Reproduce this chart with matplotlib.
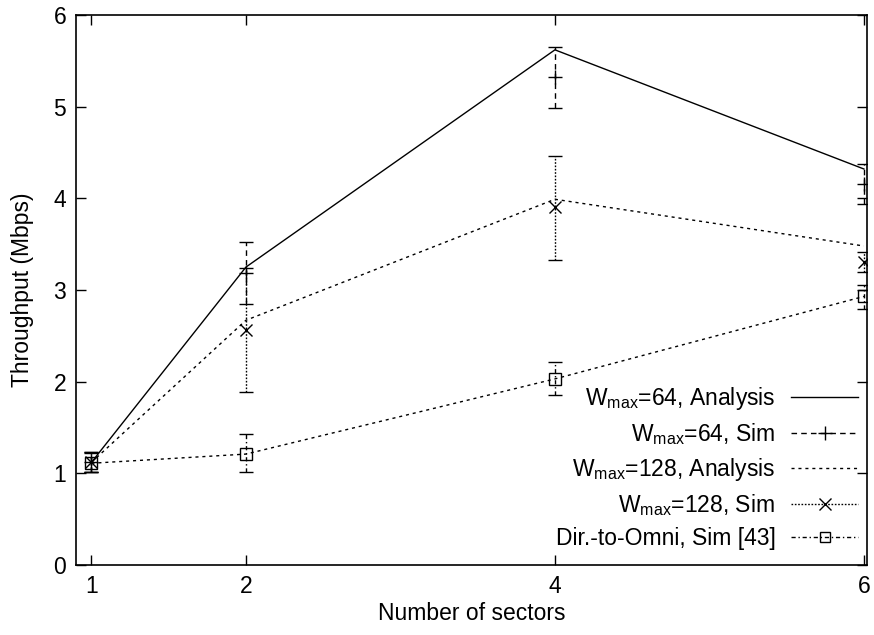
# Throughput vs number of sectors (gnuplot-style line chart with error bars)

import matplotlib
matplotlib.use("Agg")
import matplotlib.pyplot as plt
from matplotlib.lines import Line2D

plt.rcParams['font.family'] = ['Liberation Sans', 'DejaVu Sans']
plt.rcParams['mathtext.fontset'] = 'custom'
plt.rcParams['mathtext.rm'] = 'Liberation Sans'

# data
sectors = [1, 2, 4, 6]
w64_analysis = [1.12, 3.25, 5.62, 4.32]
w64_sim = [1.12, 3.19, 5.32, 4.16]
w64_sim_lo = [1.01, 2.85, 4.99, 3.94]
w64_sim_hi = [1.23, 3.52, 5.65, 4.37]
w128_analysis = [1.12, 2.67, 3.99, 3.48]
w128_sim = [1.12, 2.56, 3.91, 3.31]
w128_sim_lo = [1.01, 1.89, 3.33, 3.20]
w128_sim_hi = [1.23, 3.24, 4.46, 3.42]
omni_sim = [1.11, 1.21, 2.03, 2.93]
omni_sim_lo = [1.01, 1.01, 1.86, 2.79]
omni_sim_hi = [1.22, 1.43, 2.21, 3.05]

labels = [r'W$_{\mathrm{max}}$=64, Analysis',
          r'W$_{\mathrm{max}}$=64, Sim',
          r'W$_{\mathrm{max}}$=128, Analysis',
          r'W$_{\mathrm{max}}$=128, Sim',
          'Dir.-to-Omni, Sim [43]']


def yerr(mid, lo, hi):
    return [[m - l for m, l in zip(mid, lo)], [h - m for m, h in zip(mid, hi)]]


fs = 16.5
fig = plt.figure(figsize=(8.74, 6.35), dpi=100)
ax = fig.add_axes([76 / 874, 1 - 565 / 635, 791 / 874, 550 / 635])

dash64 = (0, (4, 3))
dot128 = (0, (1.2, 1.2))
dash_an128 = (0, (2.2, 2.8))
dashdot = (0, (3, 2, 1, 2))

ax.plot(sectors, w64_analysis, color='black', lw=1.0)
ax.plot(sectors, w128_analysis, color='black', lw=1.0, linestyle=dash_an128)
ax.plot(sectors, omni_sim, color='black', lw=1.0, linestyle=dash_an128)

eb = ax.errorbar(sectors, w64_sim, yerr=yerr(w64_sim, w64_sim_lo, w64_sim_hi),
                 fmt='+', color='black', ms=10, mew=1.0, elinewidth=1.0,
                 capsize=5, capthick=1.0)
eb[2][0].set_linestyle(dash64)

eb = ax.errorbar(sectors, w128_sim, yerr=yerr(w128_sim, w128_sim_lo, w128_sim_hi),
                 fmt='x', color='black', ms=9, mew=1.0, elinewidth=1.0,
                 capsize=5, capthick=1.0)
eb[2][0].set_linestyle(dot128)

eb = ax.errorbar(sectors, omni_sim, yerr=yerr(omni_sim, omni_sim_lo, omni_sim_hi),
                 fmt='s', mfc='none', color='black', ms=8, mew=1.0, elinewidth=1.0,
                 capsize=5, capthick=1.0)
eb[2][0].set_linestyle(dashdot)

ax.set_xlim(0.9, 6.02)
ax.set_ylim(0, 6)
ax.set_xticks(sectors)
ax.set_yticks(range(0, 7))
ax.tick_params(direction='in', length=7, width=1, labelsize=fs,
               top=True, right=True, pad=7)
for s in ax.spines.values():
    s.set_linewidth(1.2)

ax.set_xlabel('Number of sectors', fontsize=fs, labelpad=3)
ax.set_ylabel('Throughput (Mbps)', fontsize=fs, labelpad=14)

# legend: labels right-aligned, line samples on the right (gnuplot style)
handles = [
    Line2D([], [], color='black', lw=1.0),
    Line2D([], [], color='black', lw=1.0, linestyle=dash64, marker='+', ms=10),
    Line2D([], [], color='black', lw=1.0, linestyle=dash_an128),
    Line2D([], [], color='black', lw=1.0, linestyle=dot128, marker='x', ms=8),
    Line2D([], [], color='black', lw=1.0, linestyle=dashdot, marker='s',
           mfc='none', ms=7),
]
ax.legend(handles, labels, loc='lower right', bbox_to_anchor=(1.003, 0.006),
          frameon=False, markerfirst=False, fontsize=fs, handlelength=2.9,
          handletextpad=0.7, labelspacing=0.4, borderpad=0, numpoints=1)

fig.savefig('out.png', dpi=100)
